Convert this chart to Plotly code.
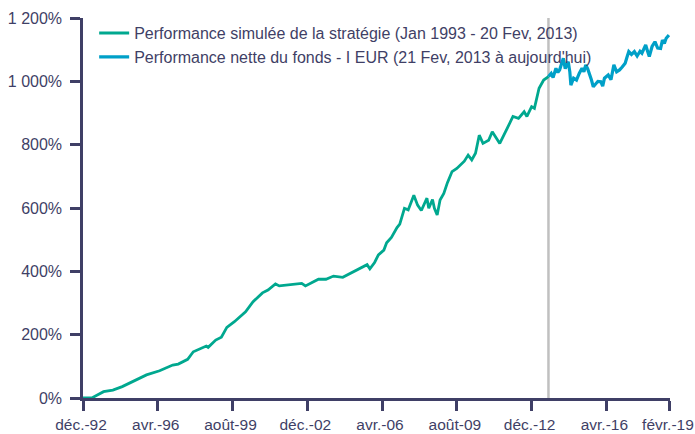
import plotly.graph_objects as go

# Simulated strategy performance (%), monthly read-off
sim_dates = ["1992-12-01","1993-05-01","1993-11-01","1994-04-01","1994-09-01","1995-04-01","1995-10-01",
             "1996-05-01","1996-12-01","1997-03-01","1997-08-01","1997-11-01","1998-06-01","1998-07-01",
             "1998-11-01","1999-02-01","1999-05-01","1999-09-01","2000-03-01","2000-07-01","2000-12-01",
             "2001-03-01","2001-07-01","2001-09-01","2002-03-01","2002-09-01","2002-11-01","2003-02-01",
             "2003-06-01","2003-10-01","2004-02-01","2004-07-01","2004-12-01","2005-04-01","2005-08-01",
             "2005-09-15","2005-12-01","2006-02-01","2006-05-01","2006-06-15","2006-09-01","2006-12-01",
             "2007-01-15","2007-04-01","2007-06-01","2007-09-01","2007-11-01","2008-01-01","2008-02-01",
             "2008-04-01","2008-05-01","2008-07-01","2008-08-01","2008-09-15","2008-11-01","2009-01-01",
             "2009-03-01","2009-05-15","2009-08-01","2009-12-01","2010-02-01","2010-04-01","2010-06-01",
             "2010-08-01","2010-10-01","2011-01-01","2011-03-01","2011-07-01","2011-11-01","2012-02-01",
             "2012-05-01","2012-08-01","2012-09-15","2012-12-01","2013-01-15","2013-04-01","2013-06-15",
             "2013-09-01"]
sim_values = [0, 1, 20, 25, 36, 55, 73,
              86, 104, 107, 122, 146, 164, 160,
              183, 192, 223, 241, 272, 304, 332,
              341, 360, 354, 358, 362, 354, 362,
              375, 375, 385, 381, 396, 410, 421,
              408, 428, 452, 467, 490, 507, 538,
              549, 599, 594, 640, 609, 592, 604,
              631, 599, 627, 599, 578, 625, 646,
              680, 715, 725, 748, 767, 752, 773,
              830, 804, 814, 841, 804, 852, 889,
              883, 904, 889, 920, 915, 978, 1004,
              1015]

# Fund net performance (%), read-off
fund_dates = ["2013-09-01","2013-10-15","2013-11-15","2014-01-01","2014-02-01","2014-03-01","2014-04-01",
              "2014-05-01","2014-06-01","2014-06-15","2014-07-20","2014-08-15","2014-09-01","2014-10-15",
              "2014-12-01","2015-01-15","2015-03-01","2015-04-01","2015-05-01","2015-06-01","2015-07-01",
              "2015-08-01","2015-09-01","2015-10-15","2015-11-15","2016-01-01","2016-02-01","2016-03-01",
              "2016-05-01","2016-06-15","2016-08-01","2016-09-15","2016-11-01","2016-12-15","2017-02-01",
              "2017-03-01","2017-04-01","2017-05-15","2017-07-01","2017-08-15","2017-10-01","2017-11-01",
              "2017-12-01","2018-01-01","2018-02-01","2018-03-01","2018-04-15","2018-06-01","2018-07-15",
              "2018-09-01","2018-10-01","2018-11-01","2018-12-01","2019-01-15"]
fund_values = [1015, 1025, 1012, 1041, 1028, 1036, 1055,
               1073, 1040, 1046, 1062, 1030, 988, 1010,
               1004, 1025, 1041, 1030, 1052, 1040, 1025,
               1005, 983, 995, 1000, 999, 985, 1010,
               1020, 1005, 1052, 1030, 1036, 1045, 1057,
               1075, 1094, 1085, 1094, 1080, 1095, 1089,
               1100, 1115, 1095, 1078, 1110, 1125, 1105,
               1104, 1130, 1120, 1136, 1146]

switch_date = "2013-09-01"

x_tickvals = ["1992-12-01","1996-04-01","1999-08-01","2002-12-01","2006-04-01",
              "2009-08-01","2012-12-01","2016-04-01","2019-01-31"]
x_ticktext = ["déc.-92","avr.-96","août-99","déc.-02","avr.-06",
              "août-09","déc.-12","avr.-16","févr.-19"]
y_tickvals = [0, 200, 400, 600, 800, 1000, 1200]
y_ticktext = ["0%", "200%", "400%", "600%", "800%", "1 000%", "1 200%"]

text_color = "#3f3f66"
axis_color = "#3f3f66"

fig = go.Figure()
fig.add_trace(go.Scatter(x=sim_dates, y=sim_values, mode="lines",
                         name="Performance simulée de la stratégie (Jan 1993 - 20 Fev, 2013)",
                         line=dict(color="#00a88f", width=2.8)))
fig.add_trace(go.Scatter(x=fund_dates, y=fund_values, mode="lines",
                         name="Performance nette du fonds - I EUR (21 Fev, 2013 à aujourd'hui)",
                         line=dict(color="#00a0c8", width=3.2)))

fig.add_shape(type="line", xref="x", yref="paper", x0=switch_date, x1=switch_date, y0=0, y1=1,
              line=dict(color="#c0c0c0", width=2.5), layer="below")

fig.update_layout(
    width=695, height=434,
    margin=dict(l=83, r=25, t=18, b=36, autoexpand=False),
    paper_bgcolor="white", plot_bgcolor="white",
    font=dict(family="Liberation Sans, Arial, sans-serif", size=16, color=text_color),
    showlegend=True,
    legend=dict(x=0.019, y=1.005, xanchor="left", yanchor="top", bgcolor="rgba(0,0,0,0)",
                font=dict(size=16, color=text_color), tracegroupgap=0),
    xaxis=dict(type="date", range=["1992-12-01", "2019-02-01"], tickvals=x_tickvals, ticktext=x_ticktext,
               automargin=False, ticklabelstandoff=1, ticklabeloverflow="allow", ticklabelshift=-2,
               showgrid=False, zeroline=False, showline=True, linecolor=axis_color, linewidth=2.5,
               ticks="outside", ticklen=10, tickwidth=2.5, tickcolor=axis_color,
               tickfont=dict(size=15.5, color=text_color)),
    yaxis=dict(range=[0, 1200], tickvals=y_tickvals, ticktext=y_ticktext, automargin=False,
               ticklabelstandoff=5,
               showgrid=False, zeroline=False, showline=True, linecolor=axis_color, linewidth=2.5,
               ticks="outside", ticklen=10, tickwidth=2.5, tickcolor=axis_color,
               tickfont=dict(size=16, color=text_color)),
)

fig.write_html("out.html", config={"displayModeBar": False},
               post_script="document.body.style.margin='0';document.body.style.overflow='hidden';")
